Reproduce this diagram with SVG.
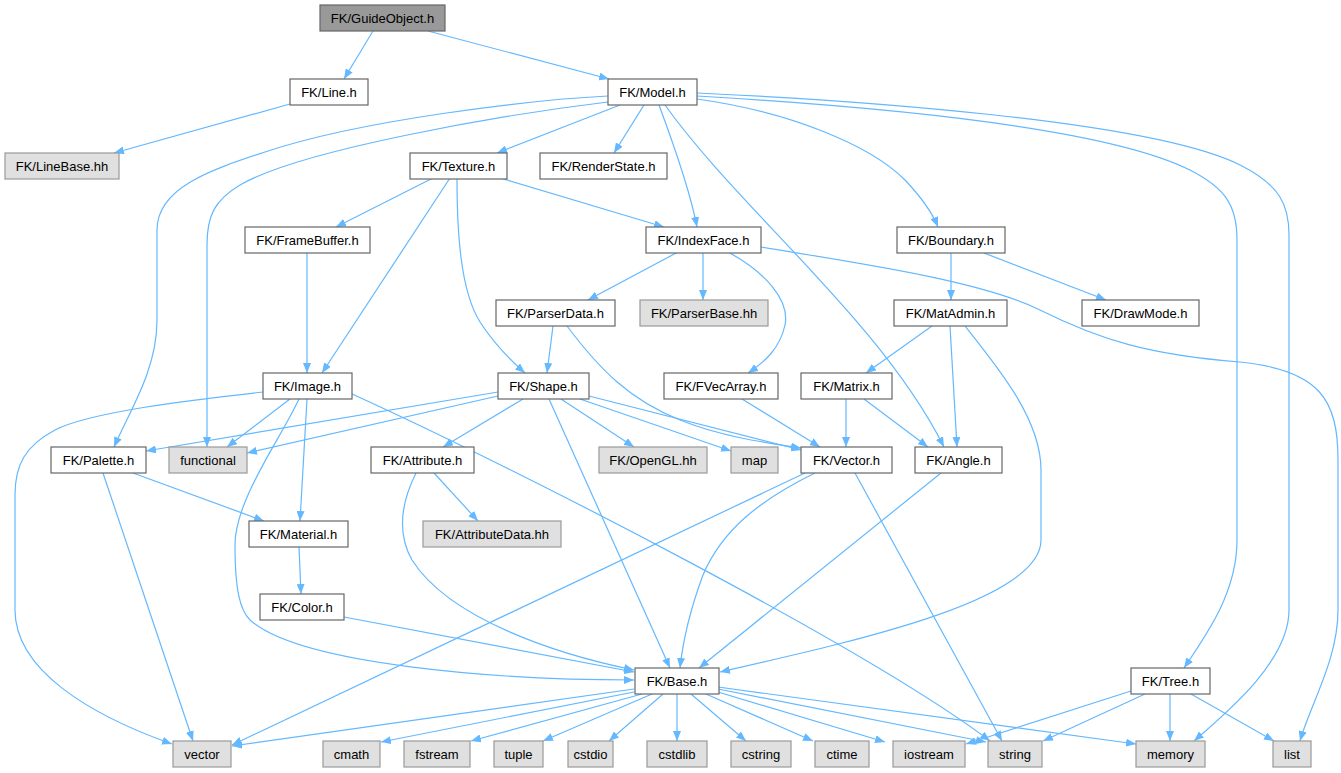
<svg xmlns="http://www.w3.org/2000/svg" width="1341" height="773" viewBox="0 0 1341 773">
<style>
.n rect{fill:#ffffff;stroke:#666666;stroke-width:1.2}
.g rect{fill:#e0e0e0;stroke:#999999;stroke-width:1.2}
.r rect{fill:#999999;stroke:#666666;stroke-width:1.2}
text{font-family:"Liberation Sans",Arial,sans-serif;font-size:13px;fill:#000;text-anchor:middle}
#edges path{fill:none;stroke:#63b8ff;stroke-width:1.2;marker-end:url(#arr)}
</style>
<defs>
<marker id="arr" markerUnits="userSpaceOnUse" markerWidth="10" markerHeight="8" refX="10" refY="4" orient="auto">
<path d="M0,0 L10,4 L0,8 z" fill="#63b8ff"/>
</marker>
</defs>
<rect width="1341" height="773" fill="#ffffff"/>
<g id="edges">
<path d="M373,31 L344,79"/>
<path d="M428,31 L609,79"/>
<path d="M290,104 L114,153"/>
<path d="M620,105 L497,153"/>
<path d="M644,105 L614,153"/>
<path d="M659,105 C672,140 690,190 697,227"/>
<path d="M665,105 C740,210 880,320 944,447"/>
<path d="M697,99 C790,112 870,145 905,180 C922,198 932,212 938,227"/>
<path d="M697,96 C850,105 1100,125 1190,170 C1225,188 1237,205 1237,240 L1237,540 C1237,590 1210,630 1184,668"/>
<path d="M697,93 C850,100 1150,120 1240,165 C1280,185 1289,205 1289,235 L1289,610 C1289,660 1230,710 1194,741"/>
<path d="M608,102 C500,115 300,150 240,185 C215,200 207,215 207,245 L207,447"/>
<path d="M608,96 C530,100 360,120 265,152 C210,170 157,188 157,230 L157,320 C157,370 130,410 114,447"/>
<path d="M433,178 L336,227"/>
<path d="M450,178 L322,373"/>
<path d="M457,178 C457,230 460,290 480,322 C495,345 510,360 525,373"/>
<path d="M500,178 L664,227"/>
<path d="M307,253 L307,373"/>
<path d="M678,252 L588,300"/>
<path d="M703,252 L703,300"/>
<path d="M728,252 C765,272 790,300 785,325 C780,348 765,362 748,373"/>
<path d="M761,247 C850,262 980,280 1040,310 C1100,340 1150,355 1240,362 C1320,370 1338,400 1338,460 L1338,610 C1338,660 1310,705 1300,741"/>
<path d="M951,253 L951,300"/>
<path d="M984,253 L1106,300"/>
<path d="M553,326 L547,373"/>
<path d="M567,326 C600,370 630,400 680,420 C720,436 760,442 801,448"/>
<path d="M932,326 L866,373"/>
<path d="M950,326 L957,447"/>
<path d="M965,326 C1000,370 1041,420 1041,470 L1041,540 C1041,600 860,640 720,672"/>
<path d="M263,392 C190,400 90,412 55,430 C25,446 15,465 15,495 L15,610 C15,670 90,715 172,744"/>
<path d="M290,399 L227,447"/>
<path d="M299,399 C280,440 235,500 235,545 C235,590 240,610 250,620 C300,665 500,680 634,680"/>
<path d="M307,399 L300,521"/>
<path d="M352,394 C520,470 870,650 990,741"/>
<path d="M498,392 L146,451"/>
<path d="M498,396 L247,453"/>
<path d="M523,399 L443,447"/>
<path d="M561,399 L634,447"/>
<path d="M580,399 L731,451"/>
<path d="M589,396 L801,450"/>
<path d="M549,399 L670,668"/>
<path d="M742,399 L820,447"/>
<path d="M846,399 L846,447"/>
<path d="M864,399 L928,447"/>
<path d="M133,473 L264,521"/>
<path d="M103,473 L193,741"/>
<path d="M434,473 L478,521"/>
<path d="M416,473 C400,505 398,535 412,560 C450,620 560,655 634,670"/>
<path d="M805,473 L232,745"/>
<path d="M815,473 C760,500 722,530 703,575 C690,610 683,640 680,668"/>
<path d="M855,473 L1002,741"/>
<path d="M941,473 L699,668"/>
<path d="M299,547 L301,594"/>
<path d="M344,617 L634,672"/>
<path d="M634,689 L232,746"/>
<path d="M634,692 L381,742"/>
<path d="M642,694 L471,741"/>
<path d="M652,694 L543,741"/>
<path d="M663,694 L609,741"/>
<path d="M677,694 L677,741"/>
<path d="M691,694 L746,741"/>
<path d="M706,694 L813,741"/>
<path d="M718,692 L885,742"/>
<path d="M718,689 L986,742"/>
<path d="M718,687 L1136,744"/>
<path d="M1131,691 L966,744"/>
<path d="M1145,694 L1043,741"/>
<path d="M1170,694 L1170,741"/>
<path d="M1191,694 L1274,741"/>
</g>
<g id="n_guideobject" class="r"><rect x="320" y="5" width="125" height="26"/><text x="382.5" y="22.5">FK/GuideObject.h</text></g>
<g id="n_line" class="n"><rect x="290" y="79" width="78" height="26"/><text x="329" y="96.5">FK/Line.h</text></g>
<g id="n_model" class="n"><rect x="608" y="79" width="89" height="26"/><text x="652.5" y="96.5">FK/Model.h</text></g>
<g id="n_linebase" class="g"><rect x="5" y="153" width="114" height="26"/><text x="62" y="170.5">FK/LineBase.hh</text></g>
<g id="n_texture" class="n"><rect x="410" y="153" width="97" height="26"/><text x="458.5" y="170.5">FK/Texture.h</text></g>
<g id="n_renderstate" class="n"><rect x="540" y="153" width="127" height="26"/><text x="603.5" y="170.5">FK/RenderState.h</text></g>
<g id="n_framebuffer" class="n"><rect x="245" y="227" width="125" height="26"/><text x="307.5" y="244.5">FK/FrameBuffer.h</text></g>
<g id="n_indexface" class="n"><rect x="646" y="227" width="115" height="26"/><text x="703.5" y="244.5">FK/IndexFace.h</text></g>
<g id="n_boundary" class="n"><rect x="897" y="227" width="108" height="26"/><text x="951" y="244.5">FK/Boundary.h</text></g>
<g id="n_parserdata" class="n"><rect x="496" y="300" width="119" height="26"/><text x="555.5" y="317.5">FK/ParserData.h</text></g>
<g id="n_parserbase" class="g"><rect x="640" y="300" width="128" height="26"/><text x="704" y="317.5">FK/ParserBase.hh</text></g>
<g id="n_matadmin" class="n"><rect x="894" y="300" width="113" height="26"/><text x="950.5" y="317.5">FK/MatAdmin.h</text></g>
<g id="n_drawmode" class="n"><rect x="1082" y="300" width="117" height="26"/><text x="1140.5" y="317.5">FK/DrawMode.h</text></g>
<g id="n_image" class="n"><rect x="263" y="373" width="89" height="26"/><text x="307.5" y="390.5">FK/Image.h</text></g>
<g id="n_shape" class="n"><rect x="498" y="373" width="91" height="26"/><text x="543.5" y="390.5">FK/Shape.h</text></g>
<g id="n_fvecarray" class="n"><rect x="664" y="373" width="114" height="26"/><text x="721" y="390.5">FK/FVecArray.h</text></g>
<g id="n_matrix" class="n"><rect x="801" y="373" width="91" height="26"/><text x="846.5" y="390.5">FK/Matrix.h</text></g>
<g id="n_palette" class="n"><rect x="51" y="447" width="95" height="26"/><text x="98.5" y="464.5">FK/Palette.h</text></g>
<g id="n_functional" class="g"><rect x="169" y="447" width="78" height="26"/><text x="208" y="464.5">functional</text></g>
<g id="n_attribute" class="n"><rect x="371" y="447" width="103" height="26"/><text x="422.5" y="464.5">FK/Attribute.h</text></g>
<g id="n_opengl" class="g"><rect x="599" y="447" width="108" height="26"/><text x="653" y="464.5">FK/OpenGL.hh</text></g>
<g id="n_map" class="g"><rect x="731" y="447" width="47" height="26"/><text x="754.5" y="464.5">map</text></g>
<g id="n_vector_h" class="n"><rect x="801" y="447" width="91" height="26"/><text x="846.5" y="464.5">FK/Vector.h</text></g>
<g id="n_angle" class="n"><rect x="915" y="447" width="87" height="26"/><text x="958.5" y="464.5">FK/Angle.h</text></g>
<g id="n_material" class="n"><rect x="249" y="521" width="99" height="26"/><text x="298.5" y="538.5">FK/Material.h</text></g>
<g id="n_attributedata" class="g"><rect x="423" y="521" width="138" height="26"/><text x="492" y="538.5">FK/AttributeData.hh</text></g>
<g id="n_color" class="n"><rect x="260" y="594" width="84" height="26"/><text x="302" y="611.5">FK/Color.h</text></g>
<g id="n_base" class="n"><rect x="635" y="668" width="84" height="26"/><text x="677" y="685.5">FK/Base.h</text></g>
<g id="n_tree" class="n"><rect x="1131" y="668" width="79" height="26"/><text x="1170.5" y="685.5">FK/Tree.h</text></g>
<g id="n_vector" class="g"><rect x="173" y="741" width="58" height="26"/><text x="202" y="758.5">vector</text></g>
<g id="n_cmath" class="g"><rect x="323" y="741" width="57" height="26"/><text x="351.5" y="758.5">cmath</text></g>
<g id="n_fstream" class="g"><rect x="404" y="741" width="66" height="26"/><text x="437" y="758.5">fstream</text></g>
<g id="n_tuple" class="g"><rect x="494" y="741" width="49" height="26"/><text x="518.5" y="758.5">tuple</text></g>
<g id="n_cstdio" class="g"><rect x="568" y="741" width="45" height="26"/><text x="590.5" y="758.5">cstdio</text></g>
<g id="n_cstdlib" class="g"><rect x="647" y="741" width="60" height="26"/><text x="677" y="758.5">cstdlib</text></g>
<g id="n_cstring" class="g"><rect x="731" y="741" width="60" height="26"/><text x="761" y="758.5">cstring</text></g>
<g id="n_ctime" class="g"><rect x="815" y="741" width="54" height="26"/><text x="842" y="758.5">ctime</text></g>
<g id="n_iostream" class="g"><rect x="893" y="741" width="72" height="26"/><text x="929" y="758.5">iostream</text></g>
<g id="n_string" class="g"><rect x="988" y="741" width="54" height="26"/><text x="1015" y="758.5">string</text></g>
<g id="n_memory" class="g"><rect x="1136" y="741" width="69" height="26"/><text x="1170.5" y="758.5">memory</text></g>
<g id="n_list" class="g"><rect x="1273" y="741" width="38" height="26"/><text x="1292" y="758.5">list</text></g>
</svg>
